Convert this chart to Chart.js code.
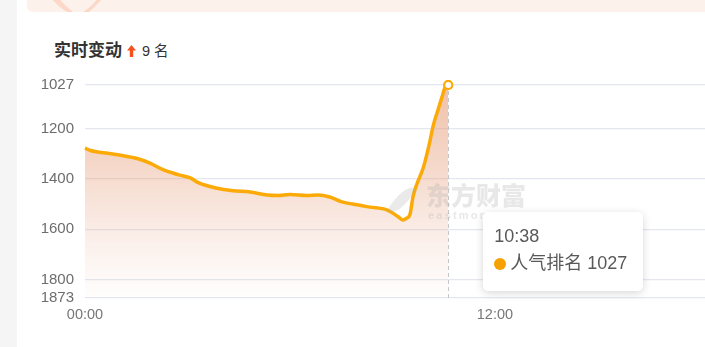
<!DOCTYPE html>
<html>
<head>
<meta charset="utf-8">
<script src="https://cdn.jsdelivr.net/npm/chart.js@4/dist/chart.umd.min.js"></script>
<style>
  html,body{margin:0;padding:0;background:#fff;width:705px;height:347px;overflow:hidden;}
  #strip{position:absolute;left:0;top:0;width:17px;height:347px;background:#f5f5f5;}
  #banner{position:absolute;left:27px;top:0;width:678px;height:12px;background:#fdf1eb;border-bottom-left-radius:6px;overflow:hidden;}
  #title{position:absolute;left:54px;top:36px;font-family:"Noto Sans CJK SC",sans-serif;color:#333;white-space:nowrap;}
  #title b{font-size:17px;font-weight:700;}
  #title svg{display:inline-block;vertical-align:-1px;margin-left:5px;margin-right:6px;}
  #title .n{font-size:14.5px;font-family:"Liberation Sans","Noto Sans CJK SC",sans-serif;}
  #wrap{position:absolute;left:0;top:0;width:705px;height:347px;}
  #wm{position:absolute;left:386px;top:179px;width:150px;height:44px;pointer-events:none;}
  #wm .cn{position:absolute;left:40px;top:0;font-family:"Noto Sans CJK SC",sans-serif;font-weight:900;font-size:25px;line-height:30px;color:rgba(170,170,170,0.27);}
  #wm .en{position:absolute;left:42px;top:30px;font-family:"Liberation Sans",sans-serif;font-weight:700;font-size:11px;color:rgba(170,170,170,0.27);letter-spacing:2.2px;}
  #wm .logo{position:absolute;left:8px;top:4px;width:15px;height:34px;background:rgba(170,170,170,0.25);border-radius:100% 0 100% 0;transform:rotate(28deg);}
  #tip{position:absolute;display:none;background:#fff;border-radius:5px;box-shadow:0 2px 9px rgba(0,0,0,0.16);font-family:"Liberation Sans","Noto Sans CJK SC",sans-serif;color:#595959;box-sizing:border-box;padding:13px 10px 10px 11px;width:160px;height:79px;}
  #tip .t{font-size:18px;line-height:23px;}
  #tip .b{font-size:18px;line-height:27px;margin-top:2px;white-space:nowrap;}
  #tip .dot{display:inline-block;width:12px;height:12px;border-radius:50%;background:#f7a100;margin-right:4px;vertical-align:-1px;}
</style>
</head>
<body>
<div id="strip"></div>
<div id="banner">
  <svg width="120" height="12" style="position:absolute;left:0;top:0">
    <path d="M22 -4 Q30 6 40 12 L46 12 Q36 4 30 -4 Z" fill="#fcd9c7"/>
    <path d="M72 -4 Q66 6 56 12 L62 12 Q70 5 78 -4 Z" fill="#fcd9c7"/>
  </svg>
</div>
<div id="title"><b>实时变动</b><svg width="9" height="12" viewBox="0 0 9 12"><path d="M4.5 0 L9 5.5 L6.2 5.5 L6.2 12 L2.8 12 L2.8 5.5 L0 5.5 Z" fill="#f4511e"/></svg><span class="n">9 名</span></div>
<div id="wrap"><canvas id="c" width="705" height="347"></canvas></div>
<div id="wm"><div class="logo"></div><div class="cn">东方财富</div><div class="en">eastmoney.com</div></div>
<div id="tip"><div class="t"></div><div class="b"><span class="dot"></span><span class="txt"></span></div></div>
<script>
// ---- data ----
const times = ["00:00","00:10","00:20","00:40","01:00","01:30","01:55","02:15","02:45","03:05","03:20","03:50","04:20","04:50","05:20","05:40","06:00","06:30","06:50","07:10","07:30","07:50","08:20","08:50","09:10","09:18","09:25","09:31","09:36","09:43","09:54","10:05","10:11","10:20","10:27","10:32","10:38"];
const ranks = [1278,1287,1292,1298,1305,1318,1338,1361,1384,1396,1416,1436,1447,1452,1464,1466,1462,1466,1464,1472,1490,1500,1512,1523,1550,1563,1556,1539,1472,1420,1357,1259,1194,1126,1075,1039,1027];
const yTicks = [1027,1200,1400,1600,1800,1873];
const xTickLabels = ["00:00","12:00"];
const seriesName = "人气排名";

function toMin(s){const p=s.split(":");return (+p[0])*60+(+p[1]);}
function toHM(m){const h=Math.floor(m/60),mm=Math.round(m%60);return String(h).padStart(2,"0")+":"+String(mm).padStart(2,"0");}

const points = times.map((t,i)=>({x:toMin(t), y:ranks[i]}));
const last = points.length-1;
const lineColor = "#fbaa07";
const fontNum = "'Liberation Sans','Noto Sans CJK SC',sans-serif";

const dashPlugin = {
  id:"dash",
  afterDatasetsDraw(chart){
    const pt = chart.getDatasetMeta(0).data[last];
    const ctx = chart.ctx, a = chart.chartArea;
    ctx.save();
    ctx.strokeStyle="#c5c6cc"; ctx.lineWidth=1; ctx.setLineDash([4,3]);
    ctx.beginPath(); ctx.moveTo(Math.round(pt.x)+0.5, pt.y+6); ctx.lineTo(Math.round(pt.x)+0.5, a.bottom); ctx.stroke();
    ctx.restore();
    pt.draw(ctx, a);
  }
};

const tipEl = document.getElementById("tip");
function externalTip(context){
  const tt = context.tooltip;
  if(!tt || tt.opacity===0 || !tt.dataPoints || !tt.dataPoints.length){tipEl.style.display="none";return;}
  const dp = tt.dataPoints[0];
  tipEl.querySelector(".t").textContent = toHM(dp.parsed.x);
  tipEl.querySelector(".txt").textContent = seriesName+" "+dp.parsed.y;
  const a = context.chart.chartArea;
  tipEl.style.left = (tt.caretX+35)+"px";
  tipEl.style.top = (a.bottom-86)+"px";
  tipEl.style.display="block";
}

const chart = new Chart(document.getElementById("c"),{
  type:"line",
  data:{datasets:[{
    label:seriesName,
    data:points,
    borderColor:lineColor,
    borderWidth:3.5,
    cubicInterpolationMode:"monotone",
    clip:false,
    fill:"start",
    backgroundColor(ctx){
      const a = ctx.chart.chartArea;
      if(!a) return "rgba(235,170,140,0.3)";
      const g = ctx.chart.ctx.createLinearGradient(0,a.top,0,a.bottom);
      g.addColorStop(0,"rgba(228,150,112,0.6)");
      g.addColorStop(0.45,"rgba(230,160,125,0.36)");
      g.addColorStop(1,"rgba(235,180,160,0.02)");
      return g;
    },
    pointRadius(ctx){return ctx.dataIndex===last?4:0;},
    pointHoverRadius(ctx){return ctx.dataIndex===last?4:0;},
    pointBackgroundColor:"#fff",
    pointBorderColor:lineColor,
    pointBorderWidth:2
  }]},
  options:{
    responsive:false,
    animation:false,
    events:[],
    layout:{autoPadding:false, padding:{top:85,right:0,left:0,bottom:0}},
    plugins:{
      legend:{display:false},
      tooltip:{enabled:false, external:externalTip, mode:"nearest", intersect:false}
    },
    scales:{
      x:{
        type:"linear", min:0, max:1089,
        afterBuildTicks(s){s.ticks = xTickLabels.map(l=>({value:toMin(l)}));},
        afterFit(s){s.height = 49;},
        ticks:{autoSkip:false, maxRotation:0, padding:8, color:"#777", font:{size:14.5, family:fontNum},
          callback(v){return toHM(v);}},
        grid:{display:false, drawTicks:false},
        border:{display:false}
      },
      y:{
        type:"linear", reverse:true, min:1027, max:1873,
        afterBuildTicks(s){s.ticks = yTicks.map(v=>({value:v}));},
        afterFit(s){s.width = 85;},
        ticks:{padding:11, color:"#6d6d6d", font:{size:15, family:fontNum}, callback(v){return String(v);}},
        grid:{color:"#e4e7f0", lineWidth:1.2, drawTicks:false},
        border:{display:false}
      }
    }
  },
  plugins:[dashPlugin]
});

const pt = chart.getDatasetMeta(0).data[last];
chart.tooltip.setActiveElements([{datasetIndex:0,index:last}],{x:pt.x,y:pt.y});
chart.update();
</script>
</body>
</html>
